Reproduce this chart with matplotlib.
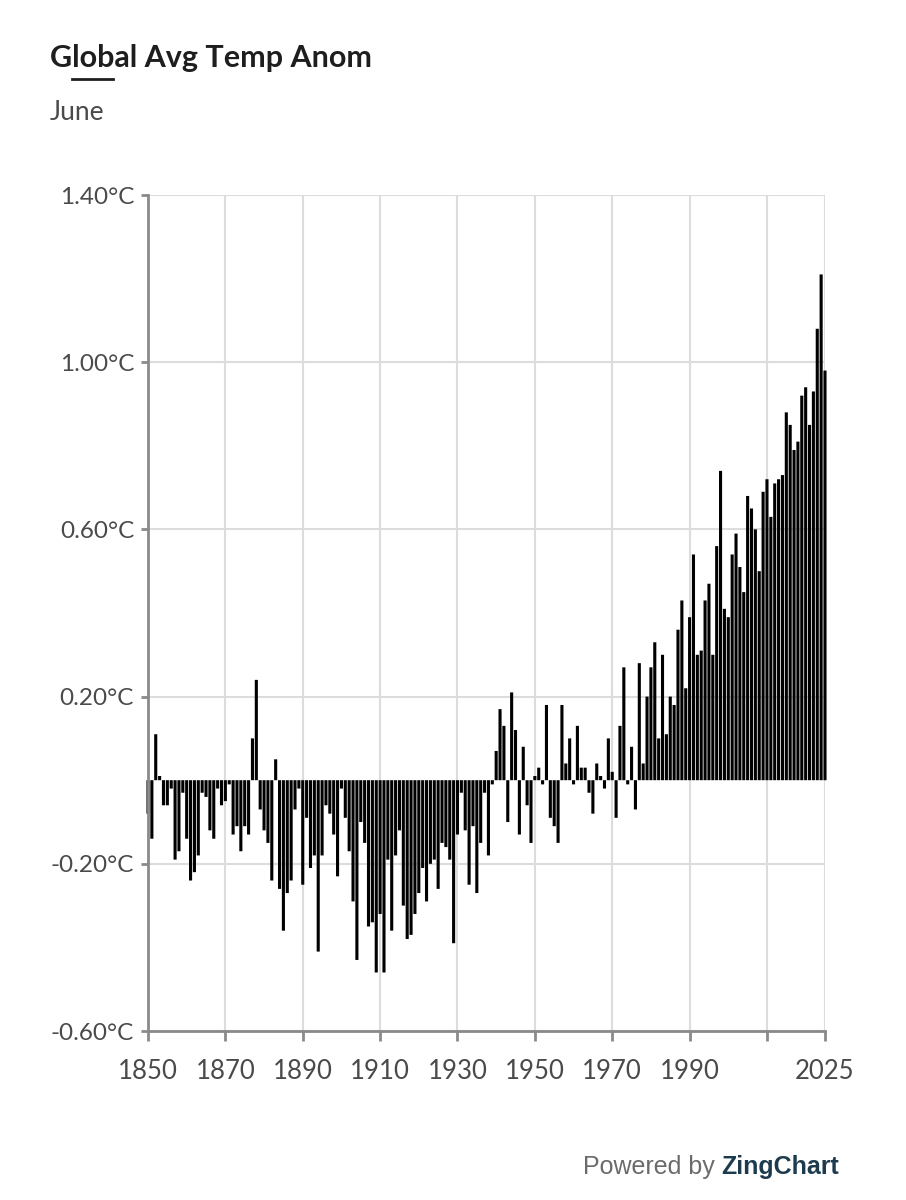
import numpy as np
import matplotlib
matplotlib.use("Agg")
import matplotlib.pyplot as plt
from matplotlib.ticker import FixedLocator, FuncFormatter

# --- data (June global temperature anomaly, deg C) ---
years = np.arange(1850, 2026)
anom = [
    -0.08, -0.14, 0.11, 0.01, -0.06, -0.06, -0.02, -0.19, -0.17, -0.03,   # 1850s
    -0.14, -0.24, -0.22, -0.18, -0.03, -0.04, -0.12, -0.14, -0.02, -0.06,  # 1860s
    -0.05, -0.01, -0.13, -0.11, -0.17, -0.11, -0.13, 0.10, 0.24, -0.07,    # 1870s
    -0.12, -0.15, -0.24, 0.05, -0.26, -0.36, -0.27, -0.24, -0.07, -0.02,   # 1880s
    -0.25, -0.09, -0.21, -0.18, -0.41, -0.18, -0.06, -0.08, -0.13, -0.23,  # 1890s
    -0.02, -0.09, -0.17, -0.29, -0.43, -0.10, -0.15, -0.35, -0.34, -0.46,  # 1900s
    -0.32, -0.46, -0.19, -0.36, -0.18, -0.12, -0.30, -0.38, -0.37, -0.32,  # 1910s
    -0.27, -0.21, -0.29, -0.20, -0.19, -0.26, -0.15, -0.16, -0.19, -0.39,  # 1920s
    -0.13, -0.03, -0.12, -0.25, -0.11, -0.27, -0.15, -0.03, -0.18, -0.01,  # 1930s
    0.07, 0.17, 0.13, -0.10, 0.21, 0.12, -0.13, 0.08, -0.06, -0.15,       # 1940s
    0.01, 0.03, -0.01, 0.18, -0.09, -0.11, -0.15, 0.18, 0.04, 0.10,       # 1950s
    -0.01, 0.13, 0.03, 0.03, -0.03, -0.08, 0.04, 0.01, -0.02, 0.10,       # 1960s
    0.02, -0.09, 0.13, 0.27, -0.01, 0.08, -0.07, 0.28, 0.04, 0.20,        # 1970s
    0.27, 0.33, 0.10, 0.30, 0.11, 0.20, 0.18, 0.36, 0.43, 0.22,           # 1980s
    0.39, 0.54, 0.30, 0.31, 0.43, 0.47, 0.30, 0.56, 0.74, 0.41,           # 1990s
    0.39, 0.54, 0.59, 0.51, 0.45, 0.68, 0.65, 0.60, 0.50, 0.69,           # 2000s
    0.72, 0.63, 0.71, 0.72, 0.73, 0.88, 0.85, 0.79, 0.81, 0.92,           # 2010s
    0.94, 0.85, 0.93, 1.08, 1.21, 0.98,                                   # 2020s
]
y_ticks = [-0.60, -0.20, 0.20, 0.60, 1.00, 1.40]
x_grid = [1850, 1870, 1890, 1910, 1930, 1950, 1970, 1990, 2010, 2025]
x_labels = ["1850", "1870", "1890", "1910", "1930", "1950", "1970", "1990", "", "2025"]

FONT = ["Lato", "DejaVu Sans"]
plt.rcParams["font.family"] = FONT
AXIS_GRAY = "#8a8a8a"
GRID_GRAY = "#dcdcdc"
TEXT_GRAY = "#4a4a4a"

fig = plt.figure(figsize=(9.06, 12), dpi=100)
ax = fig.add_axes([148 / 906, 1 - 1031 / 1200, (825 - 148) / 906, (1031 - 195) / 1200])

bars = ax.bar(years, anom, width=0.8, color="black", linewidth=0, clip_on=False, zorder=3)
for b in bars:
    b.set_snap(False)

ax.set_xlim(1850, 2025)
ax.set_ylim(-0.6, 1.4)
ax.yaxis.set_major_locator(FixedLocator(y_ticks))
ax.yaxis.set_major_formatter(FuncFormatter(lambda v, p: f"{v:.2f}°C"))
ax.set_xticks(x_grid)
ax.set_xticklabels(x_labels)

ax.grid(True, color=GRID_GRAY, linewidth=1.5, zorder=0)
ax.set_axisbelow(True)
for s in ["top", "right"]:
    ax.spines[s].set_visible(False)
for s in ["left", "bottom"]:
    ax.spines[s].set_color(AXIS_GRAY)
    ax.spines[s].set_linewidth(2)
    ax.spines[s].set_zorder(4)

ax.tick_params(axis="y", length=5, width=2, color=AXIS_GRAY, pad=5,
               labelsize=17.5, labelcolor=TEXT_GRAY)
ax.tick_params(axis="x", length=7, width=2, color=AXIS_GRAY, pad=13,
               labelsize=18.5, labelcolor=TEXT_GRAY)

# title block
fig.text(50 / 906, 1 - 58 / 1200, "Global Avg Temp Anom", fontsize=22,
         fontweight="bold", color="#1e1e1e", va="center", ha="left")
fig.add_artist(plt.Line2D([72 / 906, 113 / 906], [1 - 79 / 1200, 1 - 79 / 1200],
                          color="#1e1e1e", linewidth=2))
fig.text(50 / 906, 1 - 112 / 1200, "June", fontsize=19, color=TEXT_GRAY,
         va="center", ha="left")

# footer
t1 = fig.text(583 / 906, 1 - 1167 / 1200, "Powered by ", fontsize=18,
              color="#6b6b6b", va="center", ha="left",
              family=["Liberation Sans", "DejaVu Sans"])
fig.canvas.draw()
bb = t1.get_window_extent()
fig.text(bb.x1 / 906, 1 - 1167 / 1200, "ZingChart", fontsize=18,
         fontweight="bold", color="#1d3b4f", va="center", ha="left",
         family=["Liberation Sans", "DejaVu Sans"])

fig.savefig("out.png", dpi=100)
